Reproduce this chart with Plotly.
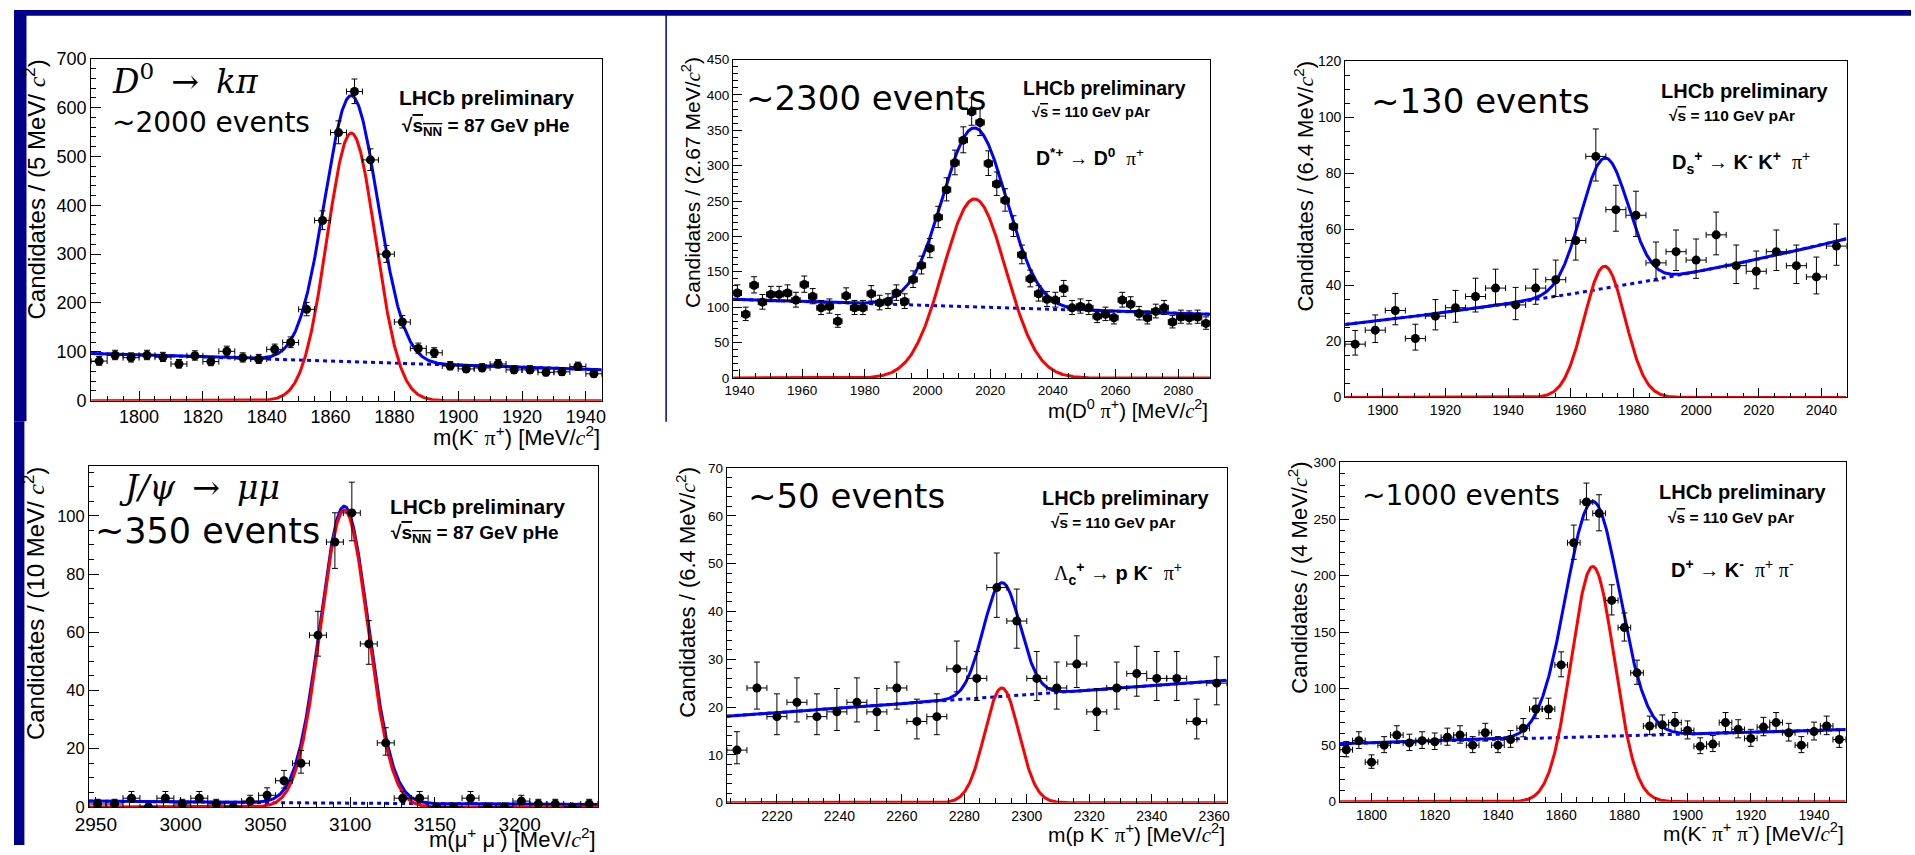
import numpy as np
import plotly.graph_objects as go

FIG_W, FIG_H = 1915, 855

# ---------------- measured spectra (counts per bin) ----------------
# D0 -> K- pi+ , pHe 87 GeV, 5 MeV bins
d0_range = [1785.0, 1945.0]
d0_bin = 5.0
d0_counts = [81, 93, 88, 93, 89, 75, 92, 80, 101, 88, 85, 105, 119, 187, 369, 549,
             633, 493, 300, 161, 107, 98, 71, 65, 67, 75, 63, 63, 58, 59, 70, 55]
d0_bkg = ["lin", 96.7, 63.3]             # background value at the two range edges
d0_total_gauss = [1866.5, 8.3, 545.0]     # mean, sigma, height
d0_signal_gauss = [1866.5, 7.6, 548.0]

# D*+ -> D0 pi+ , pAr 110 GeV, 2.67 MeV bins
dst_range = [1938.0, 2090.19]
dst_bin = 2.67
dst_counts = [120, 90, 131, 107, 118, 118, 120, 110, 132, 115,
              99, 101, 80, 116, 99, 99, 119, 106, 108, 120,
              108, 139, 159, 183, 227, 266, 304, 336, 376, 361,
              303, 274, 251, 214, 174, 140, 119, 111, 110, 126,
              99, 101, 99, 87, 90, 85, 110, 104, 91, 85,
              94, 99, 79, 86, 85, 86, 77]
dst_bkg = ["lin", 111.0, 90.0]
dst_total_gauss = [2015.0, 10.2, 253.0]
dst_signal_gauss = [2015.0, 10.0, 253.0]

# Ds+ -> K- K+ pi+ , pAr 110 GeV, 6.4 MeV bins
ds_range = [1888.0, 2048.0]
ds_bin = 6.4
ds_counts = [19, 24, 31, 21, 29, 32, 36, 39, 33, 39, 42, 56, 86, 67, 65, 48, 52,
             49, 58, 47, 45, 52, 47, 43, 54]
ds_bkg = ["exp", 26.0, 56.6]
ds_total_gauss = [1970.8, 7.5, 46.5]
ds_signal_gauss = [1970.8, 6.5, 46.8]

# J/psi -> mu mu , pHe 87 GeV, 10 MeV bins
jpsi_range = [2946.0, 3246.0]
jpsi_bin = 10.0
jpsi_counts = [1, 1, 3, 0, 3, 1, 3, 1, 0, 2, 4, 9, 15, 59, 91, 101, 56, 22, 3, 3,
               0, 0, 3, 0, 0, 2, 1, 1, 0, 1]
jpsi_bkg = ["exp", 2.0, 0.85]
jpsi_total_gauss = [3096.5, 14.2, 102.0]
jpsi_signal_gauss = [3096.5, 14.0, 102.0]

# Lambda_c+ -> p K- pi+ , pAr 110 GeV, 6.4 MeV bins
lc_range = [2204.0, 2364.0]
lc_bin = 6.4
lc_counts = [11, 24, 18, 21, 18, 19, 21, 19, 24, 17, 18, 28, 26, 45, 38, 26, 24,
             29, 19, 24, 27, 26, 26, 17, 25]
lc_bkg = ["lin", 18.1, 25.6]
lc_total_gauss = [2292.0, 5.9, 23.8]
lc_signal_gauss = [2292.0, 5.5, 24.0]

# D+ -> K- pi+ pi+ , pAr 110 GeV, 4 MeV bins
dp_range = [1790.0, 1950.0]
dp_bin = 4.0
dp_counts = [46, 54, 35, 50, 59, 52, 54, 53, 57, 59, 50, 61, 50, 55, 65, 82, 82,
             121, 229, 265, 255, 178, 154, 114, 67, 68, 70, 63, 49, 51, 70, 64,
             56, 66, 70, 61, 50, 62, 67, 55]
dp_bkg = ["lin", 51.3, 63.8]
dp_total_gauss = [1870.0, 8.5, 208.0]
dp_signal_gauss = [1870.0, 6.8, 208.0]

# ---------------- helpers ----------------
def px(x):
    return x / FIG_W


def py(y):
    return 1.0 - y / FIG_H


def background(x, spec, lo, hi):
    kind, a, b = spec
    t = (x - lo) / (hi - lo)
    if kind == "exp":
        return a * (b / a) ** t
    return a + (b - a) * t


def gauss(x, par):
    mu, sig, amp = par
    return amp * np.exp(-0.5 * ((x - mu) / sig) ** 2)


SANS = "Liberation Sans, Arial, sans-serif"
MATH = "DejaVu Serif, serif"
HAND = "DejaVu Sans, sans-serif"
CC = "<span style='font-family:Liberation Serif'><i>c</i></span><sup>2</sup>"
PI = "<span style='font-family:Liberation Serif'>π</span>"
GAP = "\u00a0\u2009"

panels = [
    dict(rng=d0_range, bw=d0_bin, counts=d0_counts, bkg=d0_bkg,
         tot=d0_total_gauss, sig=d0_signal_gauss,
         box=(77.9, 593.4, 50.0, 400.0), yr=[0, 700],
         xd=20, xm=5, yd=100, ym=20, xf=18, yf=18, tl=10),
    dict(rng=dst_range, bw=dst_bin, counts=dst_counts, bkg=dst_bkg,
         tot=dst_total_gauss, sig=dst_signal_gauss,
         box=(726.0, 1207.5, 50.7, 376.7), yr=[0, 450],
         xd=20, xm=5, yd=50, ym=10, xf=13.5, yf=13.5, tl=9),
    dict(rng=ds_range, bw=ds_bin, counts=ds_counts, bkg=ds_bkg,
         tot=ds_total_gauss, sig=ds_signal_gauss,
         box=(1343.8, 1849.9, 52.3, 396.7), yr=[0, 120],
         xd=20, xm=5, yd=20, ym=5, xf=14, yf=14, tl=9),
    dict(rng=jpsi_range, bw=jpsi_bin, counts=jpsi_counts, bkg=jpsi_bkg,
         tot=jpsi_total_gauss, sig=jpsi_signal_gauss,
         box=(75.8, 589.2, 467.3, 816.0), yr=[0, 117],
         xd=50, xm=10, yd=20, ym=5, xf=19, yf=16.5, tl=10),
    dict(rng=lc_range, bw=lc_bin, counts=lc_counts, bkg=lc_bkg,
         tot=lc_total_gauss, sig=lc_signal_gauss,
         box=(719.7, 1224.2, 469.0, 811.7), yr=[0, 70],
         xd=20, xm=5, yd=10, ym=2, xf=14, yf=13.5, tl=9),
    dict(rng=dp_range, bw=dp_bin, counts=dp_counts, bkg=dp_bkg,
         tot=dp_total_gauss, sig=dp_signal_gauss,
         box=(1338.5, 1849.0, 463.3, 810.7), yr=[0, 300],
         xd=20, xm=5, yd=50, ym=10, xf=14, yf=13.5, tl=9),
]

fig = go.Figure()
layout_axes = {}

for i, p in enumerate(panels, start=1):
    xa = "x" if i == 1 else f"x{i}"
    ya = "y" if i == 1 else f"y{i}"
    lo, hi = p["rng"]
    counts = np.array(p["counts"], dtype=float)
    centers = lo + p["bw"] * (np.arange(len(counts)) + 0.5)
    err_up = np.sqrt(counts + 0.25) + 0.5
    err_dn = np.sqrt(counts + 0.25) - 0.5

    xs = np.linspace(lo, hi, 800)
    bkg = background(xs, p["bkg"], lo, hi)
    total = bkg + gauss(xs, p["tot"])
    signal = gauss(xs, p["sig"])

    fig.add_trace(go.Scatter(x=xs, y=bkg, mode="lines", xaxis=xa, yaxis=ya,
                             line=dict(color="#0000ff", width=3, dash="4px,4px"),
                             hoverinfo="skip", showlegend=False))
    fig.add_trace(go.Scatter(x=xs, y=total, mode="lines", xaxis=xa, yaxis=ya,
                             line=dict(color="#0000ff", width=3),
                             hoverinfo="skip", showlegend=False))
    fig.add_trace(go.Scatter(x=xs, y=signal, mode="lines", xaxis=xa, yaxis=ya,
                             line=dict(color="#ff0000", width=3),
                             hoverinfo="skip", showlegend=False))
    fig.add_trace(go.Scatter(
        x=centers, y=counts, mode="markers", xaxis=xa, yaxis=ya,
        marker=dict(color="black", size=9),
        error_x=dict(type="constant", value=p["bw"] / 2, color="black",
                     thickness=1, width=3),
        error_y=dict(type="data", array=err_up, arrayminus=err_dn,
                     symmetric=False, color="black", thickness=1, width=3),
        showlegend=False, cliponaxis=True))

    l, r, t, b = p["box"]
    axis_common = dict(showline=True, linecolor="black", linewidth=1.2,
                       mirror=True, ticks="inside", tickcolor="black",
                       tickwidth=1, ticklen=p["tl"], showgrid=False,
                       zeroline=False)
    layout_axes["xaxis" if i == 1 else f"xaxis{i}"] = dict(
        axis_common, domain=[px(l), px(r)], range=[lo, hi],
        anchor=ya, dtick=p["xd"], tick0=0,
        minor=dict(dtick=p["xm"], ticks="inside", ticklen=p["tl"] / 2,
                   tickcolor="black", showgrid=False),
        tickfont=dict(family=SANS, size=p["xf"], color="black"))
    layout_axes["yaxis" if i == 1 else f"yaxis{i}"] = dict(
        axis_common, domain=[py(b), py(t)], range=p["yr"],
        anchor=xa, dtick=p["yd"], tick0=0,
        minor=dict(dtick=p["ym"], ticks="inside", ticklen=p["tl"] / 2,
                   tickcolor="black", showgrid=False),
        tickfont=dict(family=SANS, size=p["yf"], color="black"))

annotations = []


def text(s, x, y, size, family=SANS, xanchor="left", angle=0):
    annotations.append(dict(text=s, x=px(x), y=py(y), xref="paper",
                            yref="paper", xanchor=xanchor, yanchor="middle",
                            showarrow=False, textangle=angle,
                            font=dict(family=family, size=size, color="black")))


LHCB = "<b>LHCb preliminary</b>"
SNN = "<b>√<span style='text-decoration:overline'>s<sub>NN</sub></span> = 87 GeV pHe</b>"
SPAR = "<b>√<span style='text-decoration:overline'>s</span> = 110 GeV pAr</b>"

# D0 panel
text(f"<i>D</i><sup>0</sup>{GAP}→{GAP}<i>kπ</i>", 96.8, 71, 33, MATH)
text("~2000 events", 96.8, 115, 28, HAND)
text(LHCB, 386.4, 90, 21)
text(SNN, 389.3, 120, 19)
text(f"m(K<sup>-</sup> {PI}<sup>+</sup>) [MeV/{CC}]", 593.4, 436, 22,
     xanchor="right")
text(f"Candidates / (5 MeV/ {CC})", 21, 184, 24, xanchor="center", angle=-90)

# D*+ panel
text("~2300 events", 736.8, 90, 34, HAND)
text(LHCB, 1016.7, 80, 19.5)
text(SPAR, 1025.8, 104, 14.5)
text(f"<b>D<sup>*+</sup> → D<sup>0</sup></b>  {PI}<sup>+</sup>", 1029.4, 151, 19.5)
text(f"m(D<sup>0</sup> {PI}<sup>+</sup>) [MeV/{CC}]", 1207.5, 408.5, 20.5,
     xanchor="right")
text(f"Candidates / (2.67 MeV/{CC})", 684, 176.5, 21, xanchor="center",
     angle=-90)

# Ds+ panel
text("~130 events", 1368, 93, 34, HAND)
text(LHCB, 1660.6, 83, 20)
text(SPAR, 1668.6, 108, 15.5)
text(f"<b>D<sub>s</sub><sup>+</sup> → K<sup>-</sup> K<sup>+</sup></b>  {PI}<sup>+</sup>",
     1671.6, 156, 20)
text(f"Candidates / (6.4 MeV/{CC})", 1302, 180, 22, xanchor="center",
     angle=-90)

# J/psi panel
text(f"<i>J/ψ</i>{GAP}→{GAP}<i>μμ</i>", 104, 489, 33, MATH)
text("~350 events", 80, 533, 35, HAND)
text(LHCB, 378, 508, 21)
text(SNN, 378.8, 537, 19)
text(f"m(μ<sup>+</sup> μ<sup>-</sup>) [MeV/{CC}]", 589.2, 847.5, 22,
     xanchor="right")
text(f"Candidates / (10 MeV/ {CC})", 20, 607.5, 24, xanchor="center",
     angle=-90)

# Lambda_c+ panel
text("~50 events", 738.6, 498, 34, HAND)
text(LHCB, 1036, 500, 20)
text(SPAR, 1044.7, 525, 15.3)
text(f"<span style='font-family:Liberation Serif'>Λ</span><b><sub>c</sub><sup>+</sup> → p K<sup>-</sup></b>  {PI}<sup>+</sup>",
     1047.6, 577, 20)
text(f"m(p K<sup>-</sup> {PI}<sup>+</sup>) [MeV/{CC}]", 1224.2, 843.5, 21,
     xanchor="right")
text(f"Candidates / (6.4 MeV/{CC})", 678, 596, 22, xanchor="center",
     angle=-90)

# D+ panel
text("~1000 events", 1359.2, 497, 28, HAND)
text(LHCB, 1658.4, 494, 20)
text(SPAR, 1667.2, 520, 15.5)
text(f"<b>D<sup>+</sup> → K<sup>-</sup></b>  {PI}<sup>+</sup> {PI}<sup>-</sup>",
     1670.3, 572, 20)
text(f"m(K<sup>-</sup> {PI}<sup>+</sup> {PI}<sup>-</sup>) [MeV/{CC}]", 1849,
     842.5, 21, xanchor="right")
text(f"Candidates / (4 MeV/{CC})", 1296, 581.5, 22, xanchor="center",
     angle=-90)

NAVY = "#00008b"
shapes = [
    dict(type="rect", xref="paper", yref="paper", x0=0, x1=1,
         y0=py(6), y1=1, fillcolor=NAVY, line_width=0, layer="above"),
    dict(type="rect", xref="paper", yref="paper", x0=0, x1=px(12.6),
         y0=py(421), y1=1, fillcolor=NAVY, line_width=0, layer="above"),
    dict(type="rect", xref="paper", yref="paper", x0=0, x1=px(10.5),
         y0=0, y1=py(421), fillcolor=NAVY, line_width=0, layer="above"),
    dict(type="line", xref="paper", yref="paper", x0=px(658.3), x1=px(658.3),
         y0=py(421.5), y1=1, line=dict(color=NAVY, width=1.5)),
]

fig.update_layout(
    width=FIG_W, height=FIG_H,
    margin=dict(l=0, r=0, t=0, b=0),
    paper_bgcolor="white", plot_bgcolor="white",
    showlegend=False,
    annotations=annotations,
    shapes=shapes,
    **layout_axes,
)

fig.write_html("out.html")
